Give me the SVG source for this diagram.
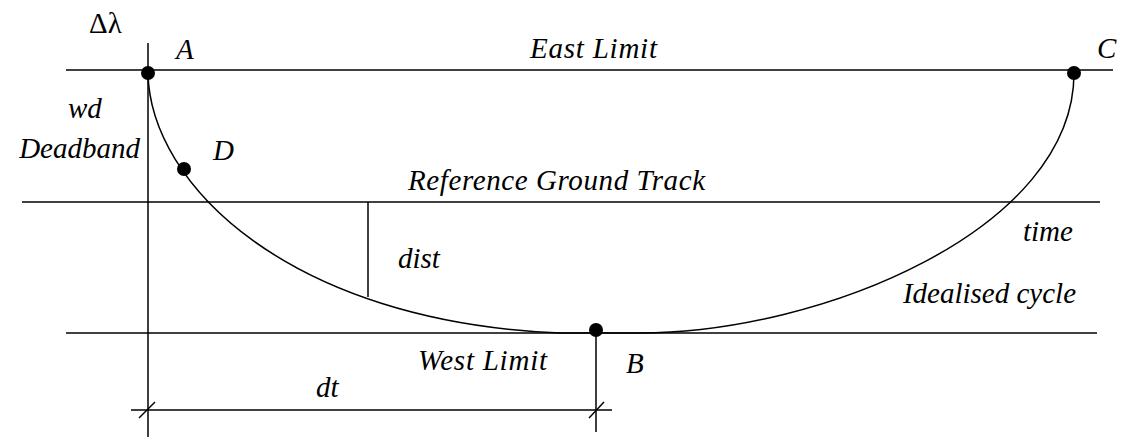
<svg xmlns="http://www.w3.org/2000/svg" width="1123" height="437" viewBox="0 0 1123 437">
<style>
.ln{stroke:#000;stroke-width:1.5;fill:none}
.cv{stroke:#000;stroke-width:1.5;fill:none}
text{font-family:'Liberation Serif','Times New Roman',serif;font-size:29px;fill:#000}
.t{font-style:italic}
.dot{fill:#000}
</style>
<rect width="1123" height="437" fill="#fff"/>
<g id="connectors">
<line class="ln" x1="148" y1="43" x2="148" y2="437"/>
<line class="ln" x1="66" y1="70" x2="1113" y2="70"/>
<line class="ln" x1="22" y1="202" x2="1100" y2="202"/>
<line class="ln" x1="66" y1="333" x2="1097" y2="333"/>
<line class="ln" x1="368" y1="202" x2="368" y2="297"/>
<line class="ln" x1="596" y1="333" x2="596" y2="432"/>
<line class="ln" x1="131" y1="410" x2="612" y2="410"/>
<line class="ln" x1="139" y1="418" x2="155" y2="402"/>
<line class="ln" x1="589" y1="418" x2="604" y2="402"/>
<path class="cv" d="M148,73 C150,185 290,322 560,333 L640,333 C820,333 1074,230 1074,73"/>
</g>
<g id="A"><circle class="dot" cx="148" cy="73" r="7"/><text class="t" x="176" y="59">A</text></g>
<g id="C"><circle class="dot" cx="1074" cy="73" r="7"/><text class="t" x="1097" y="58">C</text></g>
<g id="D"><circle class="dot" cx="184" cy="169" r="7"/><text class="t" x="213" y="160">D</text></g>
<g id="B"><circle class="dot" cx="596" cy="330" r="7"/><text class="t" x="626" y="373">B</text></g>
<g id="labels">
<text x="89" y="33">Δλ</text>
<text class="t" x="530" y="58" textLength="127" lengthAdjust="spacing">East Limit</text>
<text class="t" x="68" y="118">wd</text>
<text class="t" x="140" y="158" text-anchor="end">Deadband</text>
<text class="t" x="408" y="190" textLength="297" lengthAdjust="spacing">Reference Ground Track</text>
<text class="t" x="1023" y="241">time</text>
<text class="t" x="398" y="268">dist</text>
<text class="t" x="1076" y="303" text-anchor="end">Idealised cycle</text>
<text class="t" x="418" y="370" textLength="129" lengthAdjust="spacing">West Limit</text>
<text class="t" x="316" y="397">dt</text>
</g>
</svg>
